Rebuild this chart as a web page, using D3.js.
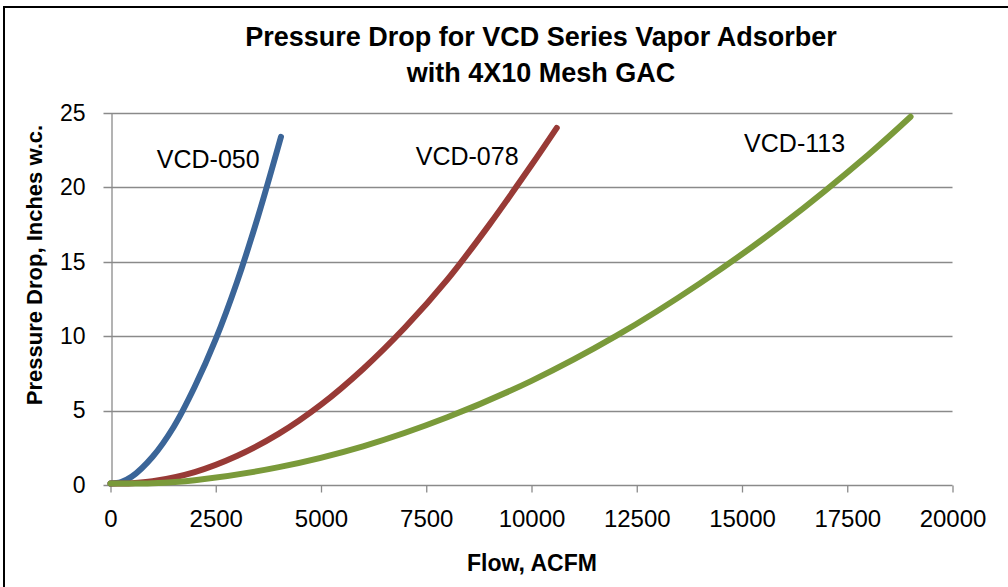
<!DOCTYPE html>
<html>
<head>
<meta charset="utf-8">
<script src="https://cdn.jsdelivr.net/npm/d3@7"></script>
<style>
  body { margin: 0; background: #fff; }
  text { font-family: "Liberation Sans", Arial, sans-serif; fill: #000; }
</style>
</head>
<body>
<div id="chart"></div>
<script>
// values (flow ACFM, pressure drop in. w.c.)
var vcd050 = [[0,0.1],[250,0.2],[500,0.55],[1000,1.9],[1500,3.9],[2000,6.6],[2500,9.8],[3000,13.6],[3500,18.0],[4050,23.4]];
var vcd078 = [[0,0.1],[500,0.12],[1000,0.25],[2000,0.87],[3000,1.95],[4000,3.45],[5000,5.4],[6000,7.8],[7000,10.6],[8000,13.8],[9000,17.5],[10000,21.5],[10600,24.0]];
var vcd113 = [[0,0.1],[1000,0.12],[2000,0.32],[4000,1.2],[6000,2.6],[8000,4.55],[10000,7.0],[12000,10.0],[14000,13.55],[16000,17.6],[18000,22.2],[19004,24.75]];
var series_names = ["VCD-050", "VCD-078", "VCD-113"];
var series_colors = ["#3b6598", "#983a36", "#7a9a3a"];
var label_pos = [[1100, 21.3], [7250, 21.5], [15050, 22.4]];
var x_ticks = [0, 2500, 5000, 7500, 10000, 12500, 15000, 17500, 20000];
var y_ticks = [0, 5, 10, 15, 20, 25];

var width = 1008, height = 587;
var svg = d3.select("#chart").append("svg")
    .attr("width", width)
    .attr("height", height);

// chart border
svg.append("rect")
    .attr("x", 4).attr("y", 7)
    .attr("width", width + 10).attr("height", height + 10)
    .style("fill", "none")
    .style("stroke", "#000")
    .style("stroke-width", 2);

var x = d3.scaleLinear().domain([0, 20000]).range([110.5, 952.5]);
var y = d3.scaleLinear().domain([0, 25]).range([485, 113]);

// gridlines
svg.append("g").selectAll("line")
    .data(y_ticks)
    .enter().append("line")
    .attr("x1", x(0) - 7).attr("x2", x(20000))
    .attr("y1", d => Math.round(y(d)) + 0.5).attr("y2", d => Math.round(y(d)) + 0.5)
    .style("stroke", "#8a8a8a")
    .style("stroke-width", 1.3);

// x axis
var xAxis = svg.append("g")
    .attr("transform", "translate(0," + (Math.round(y(0)) + 0.5) + ")")
    .call(d3.axisBottom(x).tickValues(x_ticks).tickSize(7).tickPadding(17).tickFormat(d3.format("d")));
xAxis.select(".domain").remove();
xAxis.selectAll("line").style("stroke", "#8a8a8a").style("stroke-width", 1.3);
xAxis.selectAll("text").style("font-size", "24px");

// y axis
var yAxis = svg.append("g")
    .attr("transform", "translate(" + (Math.round(x(0)) + 0.5) + ",0)")
    .call(d3.axisLeft(y).tickValues(y_ticks).tickSize(0).tickPadding(26));
yAxis.select(".domain").style("stroke", "#8a8a8a").style("stroke-width", 1.3);
yAxis.selectAll("text").style("font-size", "23px");

// curves
var line = d3.line()
    .x(d => x(d[0]))
    .y(d => y(d[1]))
    .curve(d3.curveCatmullRom.alpha(0.5));

[vcd050, vcd078, vcd113].forEach((s, i) => {
    svg.append("path")
        .datum(s)
        .attr("d", line)
        .style("fill", "none")
        .style("stroke", series_colors[i])
        .style("stroke-width", 6)
        .style("stroke-linecap", "round")
        .style("stroke-linejoin", "round");
});

// series labels
svg.append("g").selectAll("text")
    .data(series_names)
    .enter().append("text")
    .attr("x", (d, i) => x(label_pos[i][0]))
    .attr("y", (d, i) => y(label_pos[i][1]))
    .style("font-size", "25px")
    .text(d => d);

// titles
svg.append("text")
    .attr("x", 541).attr("y", 46)
    .attr("text-anchor", "middle")
    .style("font-size", "27px").style("font-weight", "bold")
    .text("Pressure Drop for VCD Series Vapor Adsorber");
svg.append("text")
    .attr("x", 541).attr("y", 82)
    .attr("text-anchor", "middle")
    .style("font-size", "27px").style("font-weight", "bold")
    .text("with 4X10 Mesh GAC");

svg.append("text")
    .attr("x", 532).attr("y", 571)
    .attr("text-anchor", "middle")
    .style("font-size", "23px").style("font-weight", "bold")
    .text("Flow, ACFM");

svg.append("text")
    .attr("transform", "translate(42,265) rotate(-90)")
    .attr("text-anchor", "middle")
    .style("font-size", "22px").style("font-weight", "bold")
    .text("Pressure Drop, Inches w.c.");
</script>
</body>
</html>
